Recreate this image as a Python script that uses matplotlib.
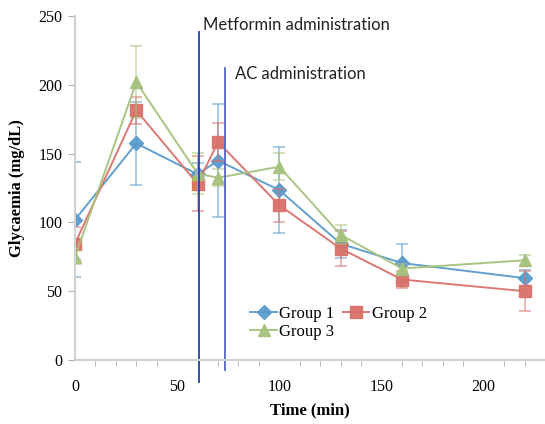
import numpy as np
import matplotlib
matplotlib.use('Agg')
import matplotlib.pyplot as plt

# sampling times (min)
time_min = [0, 30, 60, 70, 100, 130, 160, 220]

# mean glycaemia (mg/dL) and error bars
group1 = [102, 157.5, 135, 145, 123.5, 84.5, 70.5, 59.5]
group1_err = [42, 30, 8, 41, 31, 10, 13.5, 6]
group2 = [84.5, 181.5, 128, 158.5, 112.5, 81, 58.5, 50]
group2_err = [12, 10, 20, 14, 12, 13, 6.5, 14.5]
group3 = [75, 202, 135.5, 132.5, 140.5, 91, 66.5, 72.5]
group3_err = [5, 26, 15, 6, 10, 7, 3, 4]

labels = ['Group 1', 'Group 2', 'Group 3']
colors = ['#5b9bcc', '#d9716a', '#a5c27c']
markers = ['D', 's', '^']

metformin_t = 60.6
ac_t = 73.2

serif = 'Liberation Serif'

fig = plt.figure(figsize = (5.45, 4.24), dpi = 100)
ax = fig.add_axes([0.1376, 0.151, 0.8624, 0.811])

series = [(group1, group1_err), (group2, group2_err), (group3, group3_err)]
sizes = [7, 8.5, 8.5]
handles = []
for (y, err), lab, c, m, ms in zip(series, labels, colors, markers, sizes):
    ax.errorbar(time_min, y, yerr = err, color = c, ecolor = c, elinewidth = 1.2,
                capsize = 4, capthick = 1.2, alpha = 0.6, fmt = 'none')
    h, = ax.plot(time_min, y, color = c, lw = 1.4, marker = m, markersize = ms,
                 markeredgecolor = c, label = lab, alpha = 0.95)
    handles.append(h)

# administration markers
ax.axvline(metformin_t, ymin = -0.064, ymax = 0.954, color = '#2244a8', lw = 1.3, clip_on = False)
ax.axvline(ac_t, ymin = -0.029, ymax = 0.849, color = '#5566c4', lw = 1.3, clip_on = False)
ax.text(62.6, 243.5, 'Metformin administration', fontsize = 12, family = 'Lato',
        va = 'center', ha = 'left', color = '#222222')
ax.text(78.2, 207.8, 'AC administration', fontsize = 12, family = 'Lato',
        va = 'center', ha = 'left', color = '#222222')

ax.set_xlim(0, 230)
ax.set_ylim(0, 250)
ax.set_xticks(np.arange(0, 201, 50))
ax.set_xticks(np.arange(0, 221, 10), minor = True)
ax.set_yticks(np.arange(0, 251, 50))

for s in ['top', 'right']:
    ax.spines[s].set_visible(False)
for s in ['left', 'bottom']:
    ax.spines[s].set_color('#d0d0d0')
    ax.spines[s].set_linewidth(1.5)

ax.tick_params(axis = 'x', which = 'both', direction = 'out', length = 4, color = '#b0b0b0')
ax.tick_params(axis = 'x', which = 'major', length = 0, pad = 14)
ax.tick_params(axis = 'y', direction = 'out', length = 5, color = '#b0b0b0', pad = 4)
for lbl in ax.get_xticklabels() + ax.get_yticklabels():
    lbl.set_family(serif)
    lbl.set_fontsize(11.5)

ax.set_xlabel('Time (min)', family = serif, fontsize = 12, fontweight = 'bold', labelpad = 5)
ax.set_ylabel('Glycaemia (mg/dL)', family = serif, fontsize = 12, fontweight = 'bold', labelpad = 10)

# column-wise fill: G1, G3 in first column, G2 in second
ax.legend([handles[0], handles[2], handles[1]], [labels[0], labels[2], labels[1]],
          loc = 'lower left', bbox_to_anchor = (0.355, 0.035), ncol = 2, frameon = False,
          prop = {'family': serif, 'size': 12}, handlelength = 1.6, handletextpad = 0.15,
          columnspacing = 0.5, labelspacing = 0.1, borderpad = 0)

fig.savefig('out.png', dpi = 100)
